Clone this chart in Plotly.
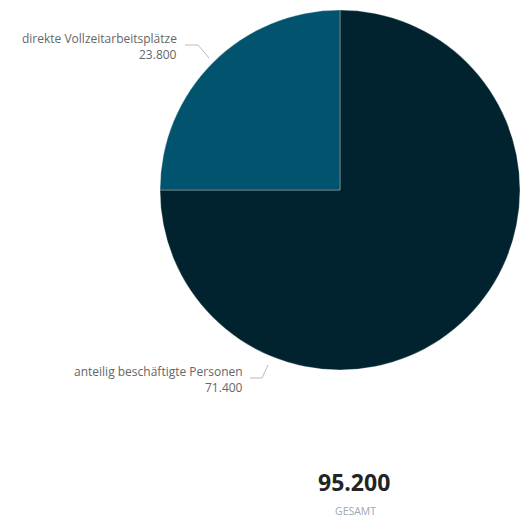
import plotly.graph_objects as go

labels = ["anteilig beschäftigte Personen", "direkte Vollzeitarbeitsplätze"]
values = [71400, 23800]
colors = ["#01232f", "#01536e"]
total_label = "GESAMT"

W, H = 521, 519

def fmt(v):
    return f"{v:,}".replace(",", ".")

def px(x, y):
    return x / W, 1 - y / H

cx, cy, r = 340, 190, 180
x0, y1 = px(cx - r, cy - r)
x1, y0 = px(cx + r, cy + r)

fig = go.Figure(go.Pie(
    labels=labels, values=values, sort=False, direction="clockwise", rotation=0,
    marker=dict(colors=colors, line=dict(color="rgba(255,255,255,0.5)", width=0.6)),
    textinfo="none", hoverinfo="label+value",
    domain=dict(x=[x0, x1], y=[y0, y1]),
))

font = "Open Sans, Noto Sans, sans-serif"
gray = "#666666"
anns = []
shapes = []
placements = {
    "direkte Vollzeitarbeitsplätze": dict(tx=179, ty=38, line=[(185, 45), (198, 45), (209, 58)]),
    "anteilig beschäftigte Personen": dict(tx=245, ty=371, line=[(250, 378), (262, 378), (268, 365)]),
}
for lab, val in zip(labels, values):
    p = placements[lab]
    ax, ay = px(p["tx"], p["ty"])
    anns.append(dict(x=ax, y=ay, xref="paper", yref="paper", xanchor="right", yanchor="middle",
                     text=lab, showarrow=False, font=dict(family=font, size=12, color=gray)))
    ax2, ay2 = px(p["tx"], p["ty"] + 16)
    anns.append(dict(x=ax2, y=ay2, xref="paper", yref="paper", xanchor="right", yanchor="middle",
                     text=fmt(val), showarrow=False, font=dict(family=font, size=12, color=gray)))
    pts = [px(a, b) for a, b in p["line"]]
    path = "M " + " L ".join(f"{a},{b}" for a, b in pts)
    shapes.append(dict(type="path", path=path, xref="paper", yref="paper",
                       line=dict(color="#bbbbbb", width=1)))

tx, ty = px(354, 482)
anns.append(dict(x=tx, y=ty, xref="paper", yref="paper", xanchor="center", yanchor="middle",
                 text=f"<b>{fmt(sum(values))}</b>", showarrow=False,
                 font=dict(family=font, size=23, color="#252423")))
gx, gy = px(355, 511)
anns.append(dict(x=gx, y=gy, xref="paper", yref="paper", xanchor="center", yanchor="middle",
                 text=total_label, showarrow=False,
                 font=dict(family=font, size=10.5, color="#a0a8b0")))

fig.update_layout(
    width=W, height=H, margin=dict(l=0, r=0, t=0, b=0),
    paper_bgcolor="white", plot_bgcolor="white", showlegend=False,
    annotations=anns, shapes=shapes,
)
fig.write_html("out.html", config={"displayModeBar": False},
               post_script="document.body.style.margin='0';document.body.style.overflow='hidden';")
